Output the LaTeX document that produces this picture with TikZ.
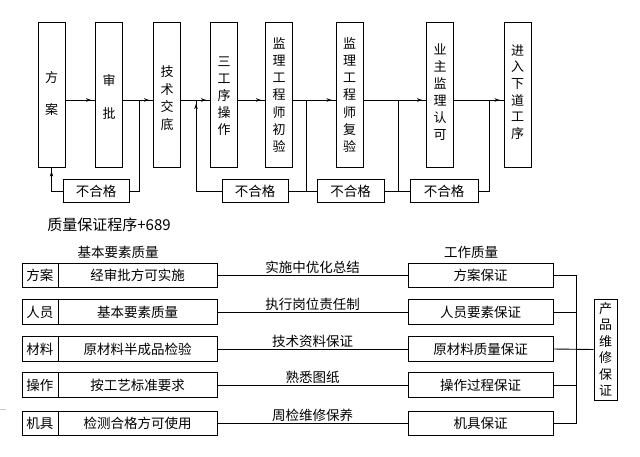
\documentclass[tikz,border=0pt]{standalone}
\usepackage{fontspec}
\newfontfamily\cjk{Noto Sans CJK SC}
\usetikzlibrary{arrows.meta,decorations.markings}
\begin{document}
\begin{tikzpicture}[x=1pt,y=-1pt,line width=0.9pt,
  vbox/.style={draw, inner sep=0pt, minimum width=27pt, minimum height=145pt},
  vtext/.style={font=\cjk\fontsize{13}{17}\selectfont, align=center, inner sep=0pt},
  fbox/.style={draw, inner sep=0pt, minimum width=66pt, minimum height=23pt, font=\cjk\fontsize{13.5}{15}\selectfont},
  flow/.style={postaction={decorate}, decoration={markings, mark=at position -4pt with {\arrow{Stealth[length=5pt,width=3.5pt]}}}},
  lcell/.style={draw, inner sep=0pt, minimum width=36pt, minimum height=24.5pt, font=\cjk\fontsize{13.5}{15}\selectfont},
  mcell/.style={draw, inner sep=0pt, minimum width=159pt, minimum height=24.5pt, font=\cjk\fontsize{13.5}{15}\selectfont},
  rcell/.style={draw, inner sep=0pt, minimum width=145pt, minimum height=24.5pt, font=\cjk\fontsize{13.5}{15}\selectfont},
  lbl/.style={above, inner sep=1pt, font=\cjk\fontsize{13.5}{15}\selectfont},
  hdr/.style={inner sep=0pt, font=\cjk\fontsize{13.5}{15}\selectfont}
]
\useasboundingbox (0,0) rectangle (640,456);
\coordinate (m) at (0,100);
% top process boxes
\node[vbox] (b1) at (51.5,94.5) {};
\node[vbox] (b2) at (109,94.5) {};
\node[vbox] (b3) at (167,94.5) {};
\node[vbox] (b4) at (224,94.5) {};
\node[vbox] (b5) at (279,94.5) {};
\node[vbox] (b6) at (349.5,94.5) {};
\node[vbox] (b7) at (440,94.5) {};
\node[vbox] (b8) at (517.5,95) {};
\node[vtext, font=\cjk\fontsize{13}{32}\selectfont] (t1) at (51.5,94) {方\\案};
\node[vtext, font=\cjk\fontsize{13}{33}\selectfont] (t2) at (109,96.5) {审\\批};
\node[vtext, font=\cjk\fontsize{13}{17.8}\selectfont] (t3) at (167,98) {技\\术\\交\\底};
\node[vtext] (t4) at (224,96) {三\\工\\序\\操\\作};
\node[vtext, font=\cjk\fontsize{13}{17.3}\selectfont] (t5) at (279,95) {监\\理\\工\\程\\师\\初\\验};
\node[vtext, font=\cjk\fontsize{13}{17.3}\selectfont] (t6) at (349.5,95) {监\\理\\工\\程\\师\\复\\验};
\node[vtext] (t7) at (440,92.5) {业\\主\\监\\理\\认\\可};
\node[vtext, font=\cjk\fontsize{13}{16.7}\selectfont] (t8) at (517.5,92) {进\\入\\下\\道\\工\\序};
% main flow
\draw[flow] (b1.east|-m) -- (b2.west|-m);
\draw[flow] (b2.east|-m) -- (b3.west|-m);
\draw[flow] (b3.east|-m) -- (b4.west|-m);
\draw[flow] (b4.east|-m) -- (b5.west|-m);
\draw[flow] (b5.east|-m) -- (b6.west|-m);
\draw[flow] (b6.east|-m) -- (b7.west|-m);
\draw[flow] (b7.east|-m) -- (b8.west|-m);
% fail boxes
\node[fbox] (n1) at (96,191) {不合格};
\node[fbox] (n2) at (255,191) {不合格};
\node[fbox, minimum width=67pt] (n3) at (350.5,191) {不合格};
\node[fbox, minimum width=68pt] (n4) at (444,191) {不合格};
\coordinate (v0) at (196,100);
\coordinate (v1) at (139,100);
\coordinate (v2) at (306,100);
\coordinate (v3) at (398,100);
\coordinate (v4) at (489,100);
\draw (v1) |- (n1.east);
\draw[flow] (n1.west) -| (b1.south);
\draw[flow] (n2.west) -| (v0);
\draw (n2.east) -- (n3.west);
\draw (n3.east) -- (n4.west);
\draw (v2) -- (v2|-n2.east);
\draw (v3) -- (v3|-n3.east);
\draw (v4) |- (n4.east);
% caption
\node[inner sep=0pt, font=\cjk\fontsize{15}{18}\selectfont] (cap) at (109,224.5) {质量保证程序+689};
% headers
\node[hdr] (h1) at (118,252) {基本要素质量};
\node[hdr] (h2) at (471,252.5) {工作质量};
% rows
\node[lcell] (a1) at (40,275.5) {方案};
\node[mcell] (c1) at (137.5,275.5) {经审批方可实施};
\node[rcell] (r1) at (480.5,275.5) {方案保证};
\node[lcell] (a2) at (40,312) {人员};
\node[mcell] (c2) at (137.5,312) {基本要素质量};
\node[rcell] (r2) at (480.5,312) {人员要素保证};
\node[lcell] (a3) at (40,349) {材料};
\node[mcell] (c3) at (137.5,349) {原材料半成品检验};
\node[rcell] (r3) at (480.5,349) {原材料质量保证};
\node[lcell] (a4) at (40,385) {操作};
\node[mcell] (c4) at (137.5,385) {按工艺标准要求};
\node[rcell] (r4) at (480.5,385) {操作过程保证};
\node[lcell] (a5) at (40,423.5) {机具};
\node[mcell] (c5) at (137.5,423.5) {检测合格方可使用};
\node[rcell] (r5) at (480.5,423.5) {机具保证};
\draw (c1.east) -- node[lbl] {实施中优化总结} (r1.west);
\draw (c2.east) -- node[lbl] {执行岗位责任制} (r2.west);
\draw (c3.east) -- node[lbl] {技术资料保证} (r3.west);
\draw (c4.east) -- node[lbl] {熟悉图纸} (r4.west);
\draw (c5.east) -- node[lbl] {周检维修保养} (r5.west);
% bracket
\node[draw, inner sep=0pt, minimum width=23pt, minimum height=101pt, align=center, font=\cjk\fontsize{13}{16.5}\selectfont] (p) at (605.5,349.5) {产\\品\\维\\修\\保\\证};
\coordinate (k) at (576,0);
\draw (r1.east) -- (r1.east-|k) -- (r5.east-|k) -- (r5.east);
\draw (r2.east) -- (r2.east-|k);
\draw (r4.east) -- (r4.east-|k);
\draw (r3.east) -- (p.west);
% small stray mark
\draw[gray!45, line width=0.8pt] (0,409) -- (6,409);
\end{tikzpicture}
\end{document}
